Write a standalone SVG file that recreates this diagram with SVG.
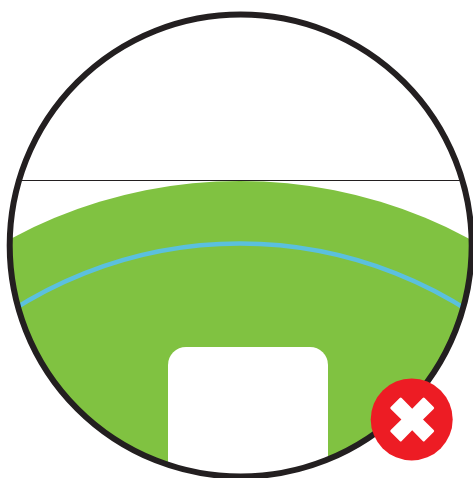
<svg xmlns="http://www.w3.org/2000/svg" width="473" height="478" viewBox="0 0 473 478">
<defs><clipPath id="inner"><circle cx="240.700" cy="245.500" r="230"/></clipPath></defs>
<style>.ring{fill:none;stroke:#231f20;stroke-width:6}.horizon{stroke:#231f20;stroke-width:1;fill:none}</style>
<rect width="473" height="478" fill="#fff"/>
<g id="dial" clip-path="url(#inner)">
<circle id="green-band" cx="240" cy="665" r="484" fill="#80c241"/>
<circle id="blue-arc" cx="240" cy="665" r="421.500" fill="none" stroke="#5bc0de" stroke-width="4.500"/>
<rect id="slot" x="168" y="347" width="160" height="160" rx="18" fill="#fff"/>
<line class="horizon" x1="0" y1="180.500" x2="473" y2="180.500"/>
</g>
<circle id="ring" class="ring" cx="240.700" cy="245.500" r="231"/>
<g id="badge">
<circle cx="411.700" cy="419.400" r="41" fill="#ed1c24"/>
<path d="M401.700 398L412.200 408.700L422.700 398Q423.700 397 424.700 398L433.700 407Q434.700 408 433.700 409L423 419.500L433.700 430Q434.700 431 433.700 432L424.700 441Q423.700 442 422.700 441L412.200 430.300L401.700 441Q400.700 442 399.700 441L390.700 432Q389.700 431 390.700 430L401.400 419.500L390.700 409Q389.700 408 390.700 407L399.700 398Q400.700 397 401.700 398Z" fill="#fff"/>
</g>
</svg>
